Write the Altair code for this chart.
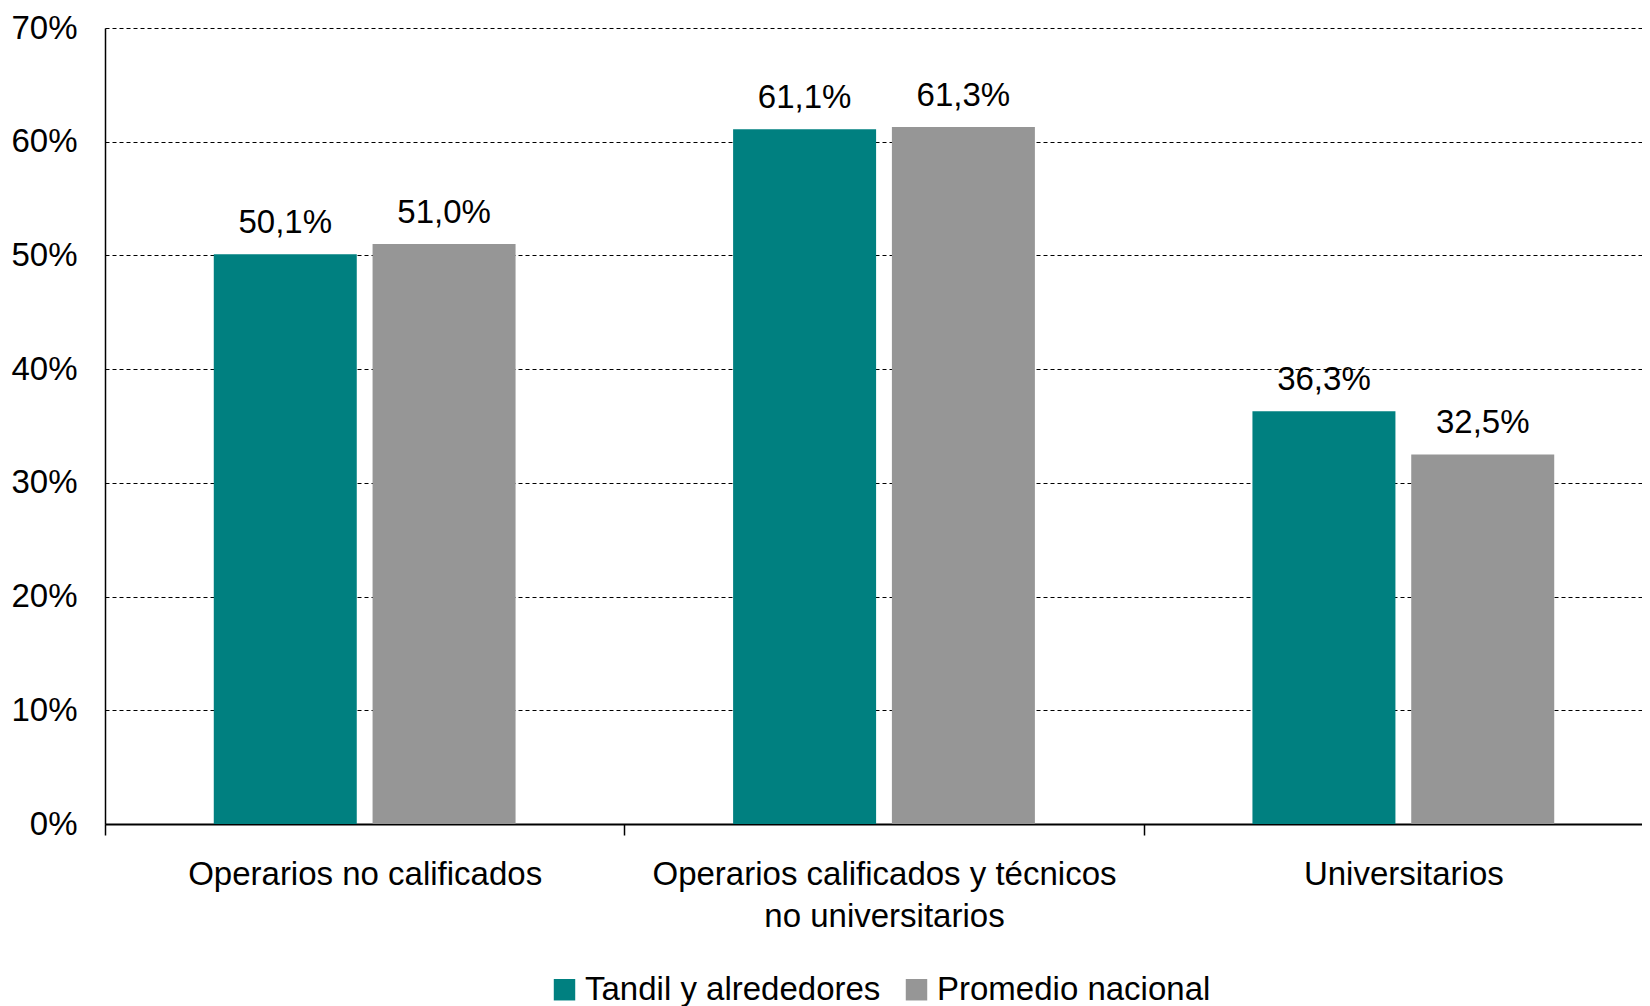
import altair as alt
import pandas as pd

categorias = ["Operarios no calificados",
              "Operarios calificados y técnicos\nno universitarios",
              "Universitarios"]
series = ["Tandil y alrededores", "Promedio nacional"]
tandil = [0.501, 0.611, 0.363]
nacional = [0.510, 0.613, 0.325]
colores = ["#008080", "#969696"]
y_ticks = [0, 0.1, 0.2, 0.3, 0.4, 0.5, 0.6, 0.7]

rows = []
for c, t, n in zip(categorias, tandil, nacional):
    rows.append({"cat": c, "serie": series[0], "v": t})
    rows.append({"cat": c, "serie": series[1], "v": n})
df = pd.DataFrame(rows)

FONT = "Liberation Sans"
FS = 33

x_enc = alt.X("cat:N", sort=categorias, title=None,
              scale=alt.Scale(range=[0, 1558], paddingInner=0, paddingOuter=0),
              axis=alt.Axis(labelAngle=0, labelFontSize=FS, labelFont=FONT, labelColor="black",
                            labelLimit=0, labelOverlap=False, labelLineHeight=42,
                            labelExpr="split(datum.label, '\\n')",
                            tickBand="extent", tickSize=11, tickColor="black", tickWidth=1.5,
                            labelPadding=23, domainColor="black", domainWidth=2, grid=False))
xo_enc = alt.XOffset("serie:N", sort=series,
                     scale=alt.Scale(paddingInner=0.0995, paddingOuter=0.685))
y_enc = alt.Y("v:Q", title=None, scale=alt.Scale(domain=[0, 0.7], nice=False),
              axis=alt.Axis(values=y_ticks, format=".0%", labelFontSize=FS, labelFont=FONT,
                            labelColor="black", ticks=False, labelPadding=28,
                            domainColor="black", domainWidth=1.5,
                            grid=True, gridColor="black", gridDash=[4, 3], gridWidth=1))

bars = alt.Chart(df).mark_bar().encode(
    x=x_enc, xOffset=xo_enc, y=y_enc,
    color=alt.Color("serie:N", sort=series,
                    scale=alt.Scale(domain=series, range=colores),
                    legend=alt.Legend(title=None, orient="none", direction="horizontal",
                                      legendX=443, legendY=945, padding=0,
                                      symbolType="square", symbolSize=460,
                                      symbolStrokeWidth=0, labelFontSize=FS, labelFont=FONT,
                                      labelColor="black", labelOffset=4, columnPadding=19,
                                      labelLimit=0)),
)

labels = alt.Chart(df).transform_calculate(
    txt="replace(format(datum.v * 100, '.1f'), '.', ',') + '%'"
).mark_text(baseline="alphabetic", dy=-21, fontSize=FS, font=FONT, color="black").encode(
    x=alt.X("cat:N", sort=categorias), xOffset=alt.XOffset("serie:N", sort=series),
    y=alt.Y("v:Q"), text="txt:N",
)

chart = alt.layer(bars, labels).properties(
    width=1537, height=796, autosize="none",
    padding={"left": 97, "top": 20, "right": 0, "bottom": 184},
).configure_view(stroke=None)

chart.save("out.html", embed_options={"renderer": "svg", "actions": False})
